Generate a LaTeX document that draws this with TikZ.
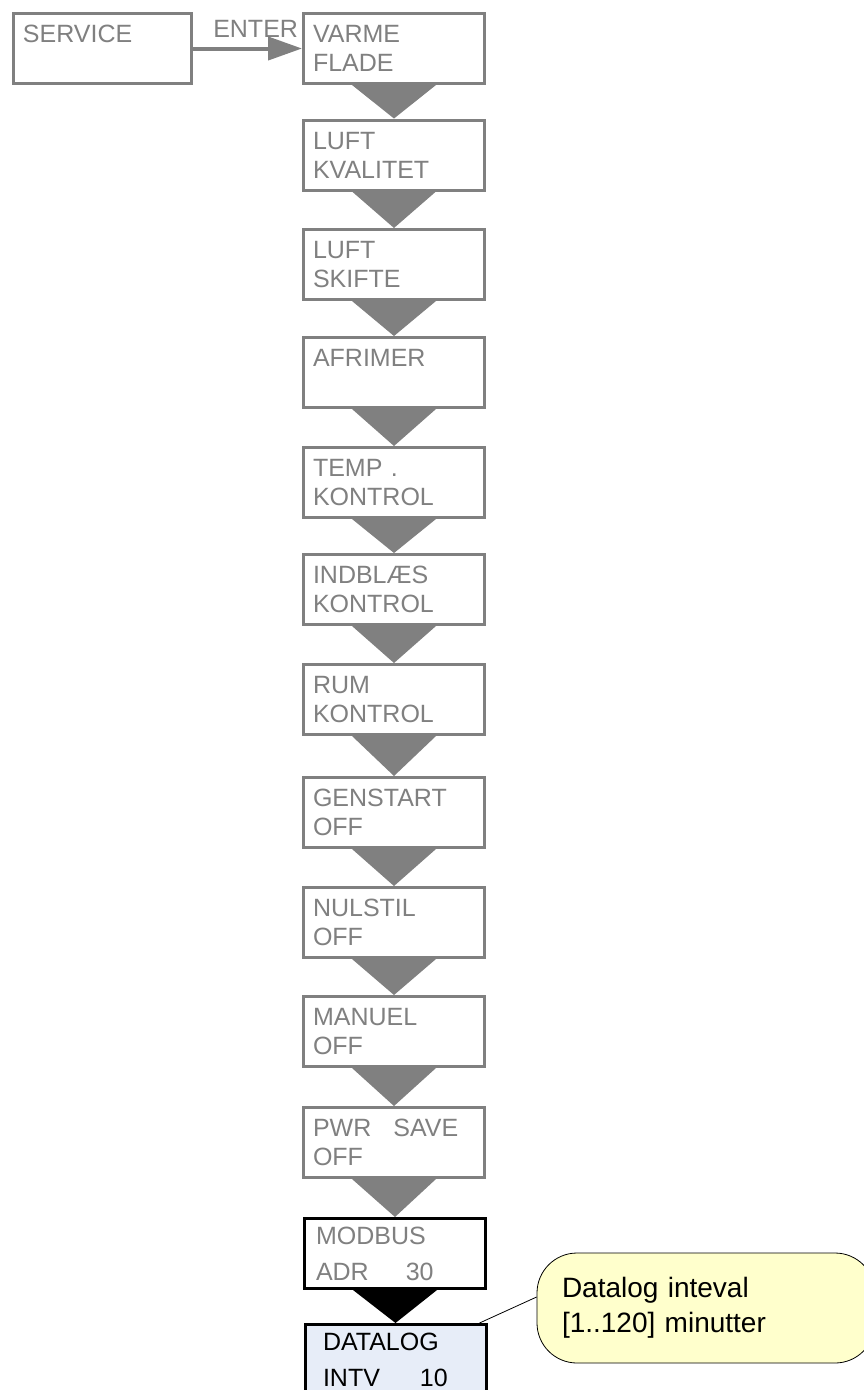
\documentclass[tikz,border=0pt]{standalone}
\usepackage{fontspec}
\setmainfont{Liberation Sans}
\usetikzlibrary{arrows.meta}
\definecolor{boxgray}{RGB}{128,128,128}
\definecolor{loglight}{RGB}{231,237,248}
\definecolor{noteyellow}{RGB}{255,255,204}

\begin{document}
\begin{tikzpicture}[x=1pt, y=-1pt,
  menu/.style={draw=boxgray, line width=3pt, text=boxgray, minimum width=181pt,
    minimum height=70pt, text width=162pt, inner sep=4pt, align=left,
    font=\fontsize{25}{29}\selectfont},
  wide/.style={draw=black, font=\fontsize{25}{36}\selectfont, text width=158pt},
  down/.style={fill=boxgray}]
\useasboundingbox[fill=white] (0,0) rectangle (863,1390);
\node[menu, minimum width=178pt, text width=159pt] (service) at (102.5,48.5) {SERVICE\\~};
% menu chain
\foreach \i/\y/\t in {1/48.5/{VARME\\FLADE}, 2/155/{LUFT\\KVALITET},
    3/264.5/{LUFT\\SKIFTE}, 4/372.5/{AFRIMER\\~}, 5/482.5/{TEMP .\\KONTROL},
    6/589.5/{INDBLÆS\\KONTROL}, 7/699.5/{RUM\\KONTROL}, 8/812.5/{GENSTART\\OFF},
    9/922.5/{NULSTIL\\OFF}, 10/1031.5/{MANUEL\\OFF},
    11/1142.5/{PWR\hspace{22pt}SAVE\\OFF}}
  \node[menu] (m\i) at (394,\y) {\t};
\node[menu, wide] (m12) at (395,1253.5) {MODBUS\\ADR\hspace{37pt}30};
\node[menu, wide, fill=loglight, text=black, text width=145pt] (m13) at (395.5,1359.5) {DATALOG\\INTV\hspace{40pt}10};
\foreach \i [count=\j from 2] in {1,...,11}
  \fill[down] ([xshift=-42pt]m\i.south) -- ([xshift=42pt]m\i.south) -- (m\j.north) -- cycle;
\fill[black] ([xshift=-42pt]m12.south) -- ([xshift=42pt]m12.south) -- (m13.north) -- cycle;
\draw[boxgray, line width=4pt, -{Triangle[length=34pt, width=23pt]}] (service) --
  node[pos=1, anchor=base east, yshift=11pt, xshift=-2pt, inner sep=0pt, text=boxgray,
    font=\fontsize{25}{29}\selectfont] {ENTER} (m1);
% note
\node[draw=black, line width=0.8pt, fill=noteyellow, rounded corners=40pt,
  minimum width=338pt, minimum height=110pt, text width=288pt, align=left,
  font=\fontsize{28}{35}\selectfont] (note) at (706,1308) {Datalog inteval\\{}[1..120] minutter};
\draw[line width=0.8pt] ([xshift=-8pt]m13.north east) -- ([yshift=11pt]note.west);
\end{tikzpicture}
\end{document}
